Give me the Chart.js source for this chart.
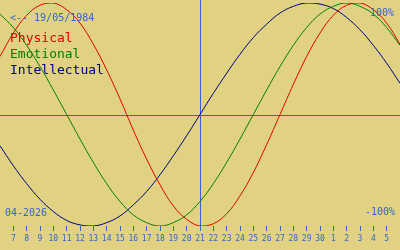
<!DOCTYPE html>
<html>
<head>
<meta charset="utf-8">
<script src="https://cdn.jsdelivr.net/npm/chart.js@4/dist/chart.umd.min.js"></script>
<style>
  body { margin: 0; background: #e0d282; }
  #wrap { width: 400px; height: 250px; }
  canvas { background: #e0d282; }
</style>
</head>
<body>
<div id="wrap"><canvas id="bioChart" width="400" height="250"></canvas></div>
<script>
// days shown (6 Apr .. 6 May 2026), index 15 = today (21)
const dayLabels = ["6", "7", "8", "9", "10", "11", "12", "13", "14", "15", "16", "17", "18", "19", "20",
  "21", "22", "23", "24", "25", "26", "27", "28", "29", "30", "1", "2", "3", "4", "5", "6"];
const todayIndex = 15;

const physical = [0.52, 0.73, 0.89, 0.98, 1.00, 0.94, 0.82, 0.63, 0.40, 0.14, -0.14, -0.40, -0.63, -0.82, -0.94,
  -1.00, -0.98, -0.89, -0.73, -0.52, -0.27, 0.00, 0.27, 0.52, 0.73, 0.89, 0.98, 1.00, 0.94, 0.82, 0.63];
const emotional = [0.90, 0.78, 0.62, 0.43, 0.22, 0.00, -0.22, -0.43, -0.62, -0.78, -0.90, -0.97, -1.00, -0.97, -0.90,
  -0.78, -0.62, -0.43, -0.22, 0.00, 0.22, 0.43, 0.62, 0.78, 0.90, 0.97, 1.00, 0.97, 0.90, 0.78, 0.62];
const intellectual = [-0.28, -0.46, -0.62, -0.76, -0.87, -0.95, -0.99, -1.00, -0.97, -0.91, -0.81, -0.69, -0.54, -0.37, -0.19,
  0.00, 0.19, 0.37, 0.54, 0.69, 0.81, 0.91, 0.97, 1.00, 0.99, 0.95, 0.87, 0.76, 0.62, 0.46, 0.28];

const BLUE = "#3366cc";
const MONO = "'DejaVu Sans Mono', monospace";

// Reference lines, legend and captions
const overlayPlugin = {
  id: "overlay",
  beforeDatasetsDraw(chart) {
    const ctx = chart.ctx;
    const area = chart.chartArea;
    const x = Math.round(chart.scales.x.getPixelForValue(todayIndex)) + 0.5;
    const y = Math.round(chart.scales.y.getPixelForValue(0)) + 0.5;
    ctx.save();
    ctx.strokeStyle = BLUE;
    ctx.lineWidth = 1;
    ctx.beginPath();
    ctx.moveTo(0, y);
    ctx.lineTo(chart.width, y);
    ctx.moveTo(x, 0);
    ctx.lineTo(x, area.bottom);
    ctx.stroke();
    ctx.restore();
  },
  afterDraw(chart) {
    const ctx = chart.ctx;
    ctx.save();
    ctx.textBaseline = "alphabetic";
    ctx.font = "10px " + MONO;
    ctx.fillStyle = BLUE;
    ctx.textAlign = "left";
    ctx.fillText("<-- 19/05/1984", 10, 21);
    ctx.fillText("04-2026", 5, 216);
    ctx.textAlign = "right";
    ctx.fillText("100%", 394, 16);
    ctx.fillText("-100%", 395, 215);

    ctx.font = "13px " + MONO;
    ctx.textAlign = "left";
    chart.data.datasets.forEach((ds, i) => {
      ctx.fillStyle = ds.borderColor;
      ctx.fillText(ds.label, 10, 42 + i * 16);
    });
    ctx.restore();
  },
};

new Chart(document.getElementById("bioChart"), {
  type: "line",
  data: {
    labels: dayLabels,
    datasets: [
      { label: "Physical", data: physical, borderColor: "#e00000" },
      { label: "Emotional", data: emotional, borderColor: "#008000" },
      { label: "Intellectual", data: intellectual, borderColor: "#000080" },
    ],
  },
  options: {
    responsive: false,
    animation: false,
    layout: { padding: { top: 3, left: 0, right: 0, bottom: 0 } },
    elements: {
      point: { radius: 0 },
      line: { borderWidth: 1, tension: 0.4 },
    },
    plugins: {
      legend: { display: false },
      tooltip: { enabled: false },
    },
    scales: {
      x: {
        offset: false,
        border: { display: false },
        grid: { drawOnChartArea: false, drawTicks: true, tickLength: 5, color: BLUE },
        ticks: {
          autoSkip: false,
          maxRotation: 0,
          padding: 3,
          color: BLUE,
          font: { family: MONO, size: 8 },
        },
        afterBuildTicks(scale) {
          scale.ticks = scale.ticks.filter((t) => t.value > 0 && t.value < dayLabels.length - 1);
        },
        afterFit(scale) {
          scale.height = 24;
        },
      },
      y: {
        display: false,
        min: -1,
        max: 1,
      },
    },
  },
  plugins: [overlayPlugin],
});
</script>
</body>
</html>
